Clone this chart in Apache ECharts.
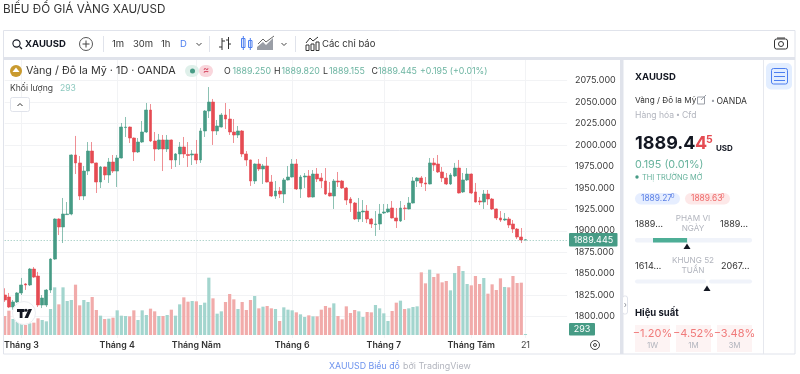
<!DOCTYPE html>
<html><head><meta charset="utf-8">
<style>html,body{margin:0;padding:0;background:#fff}#c{width:800px;height:374px}</style>
<script src="https://cdn.jsdelivr.net/npm/echarts@6/dist/echarts.min.js"></script>
</head><body><div id="c"></div>
<script>
const opens=[1825.1,1822.8,1811.1,1817,1827.5,1838,1836.8,1855.4,1847.2,1813.5,1813.5,1830.9,1867,1913.7,1904.4,1918.8,1919.5,1988.3,1979,1940.5,1969.6,1992.9,1979,1956.8,1974.3,1965,1980.1,1969.6,1984.8,2020.3,2020.9,2008.1,1991.8,2003.4,2015.1,2040.7,2004.6,1995.3,2005.8,1995.3,2005.8,1982.5,1989.5,1997.6,1988.9,1988.3,1989.5,1982.5,2016.3,2039.6,2050,2016.3,2020.9,2034.9,2030.2,2015.1,2011.6,2016.3,1989.5,1982.5,1958,1977.8,1972,1975.5,1956.8,1940.5,1946.3,1942.8,1959.2,1962.6,1977.8,1948.7,1962.6,1963.8,1939.3,1966.1,1961.5,1958,1944,1940.5,1958,1958,1949.8,1937,1932.3,1913.7,1921.9,1923,1913.7,1907.3,1907.9,1920.7,1921.9,1926.5,1914.9,1911.4,1926.5,1925.4,1932.3,1958,1961.5,1955.7,1954.5,1979,1977.8,1968.5,1961.5,1954.5,1963.8,1973.1,1945.2,1959.2,1966.1,1945.2,1934.7,1933.5,1942.8,1937,1925.4,1914.9,1912.5,1913.7,1907.9,1902,1892.7,1889.25];
const closes=[1819.3,1811.1,1817,1827.5,1836.8,1836.8,1855.4,1846,1813.5,1821.6,1830.9,1867,1913.7,1904.4,1919.5,1919.5,1988.3,1979,1940.5,1969.6,1992.9,1979,1956.8,1974.3,1965,1980.1,1969.6,1984.8,2020.9,2020.9,2008.1,1991.8,2003.4,2015.1,2040.7,2004.6,1995.3,2005.8,1995.3,2005.8,1982.5,1989.5,1997.6,1989.5,1987.7,1989.5,1982.5,2016.3,2039.6,2050,2016.3,2022.1,2034.9,2030.2,2015.1,2011.6,2016.3,1989.5,1982.5,1958,1977.8,1972,1975.5,1956.8,1940.5,1946.3,1942.8,1959.2,1962.6,1977.8,1948.7,1962.6,1963.8,1939.3,1966.1,1960.3,1958,1942.8,1940.5,1958,1956.8,1949.8,1935.8,1932.3,1913.7,1921.9,1923,1913.7,1907.9,1907.9,1919.5,1921.9,1925.4,1914.9,1911.4,1926.5,1925.8,1932.3,1958,1961.5,1955.7,1954.5,1979,1976.6,1968.5,1961.5,1954.5,1965,1973.1,1944,1959.2,1966.1,1944,1933.5,1933.5,1942.8,1937,1925.4,1914.9,1912.5,1913.7,1906.7,1902,1892.7,1889.25,1889.445];
const lows=[1817,1809.9,1807.6,1815.8,1825.1,1831,1835.6,1845,1811.1,1809.9,1811.1,1827.5,1866,1895,1885.7,1918.4,1918,1966.1,1935.8,1935.8,1965,1978.5,1944,1949.8,1959.2,1955.7,1967.3,1951,1984.2,2009.3,2002.3,1981.3,1990.6,2002.3,2013.9,2003.4,1981.3,1994.1,1969.6,1991.8,1972,1974.3,1976.6,1984.8,1974.3,1976.6,1977.8,1979,2009.3,2031.4,2000,2011.6,2020.3,2018.6,2011.6,2002.3,2008.1,1986,1975.5,1952.2,1954.5,1969.6,1954.5,1956.2,1939.3,1937,1938.2,1932.3,1958.6,1962,1947.5,1938.2,1949.8,1938.7,1938.7,1956.8,1949.8,1941.7,1939.9,1925.4,1951,1948.7,1930,1921.9,1912.5,1910.2,1910.2,1909,1903.2,1893.9,1900.9,1919.5,1920.7,1914.3,1903.2,1910.2,1912.5,1924.8,1931.7,1951,1951,1946.3,1954,1969.6,1967.3,1956.8,1953.3,1953.3,1962.6,1943.4,1944,1958,1942.8,1932.9,1930,1925.4,1930,1924.2,1912.5,1910.2,1911.4,1903.2,1897.4,1890.4,1885.7,1889.155];
const highs=[1833,1827.5,1819.3,1828.6,1845,1839,1856.6,1857.7,1852,1825.1,1832,1868,1914.5,1914.5,1938.2,1933.5,1989,2010.5,1987.1,1975.5,2003.4,2003.4,1979.5,1975.5,1974.8,1984.8,1988.3,1988.3,2025.6,2032.6,2021.5,2008.7,2008.1,2027.9,2048.9,2047.7,2015.1,2012.8,2011.6,2011.6,2006.4,1990.6,2003.4,2009.3,2003.4,1994.1,2005.8,2019.8,2040.7,2067.5,2053.6,2029.1,2037.2,2048.9,2041.9,2030.2,2022.1,2017.4,1992.9,1983,1978.5,1983.6,1977.8,1986,1965,1958,1951,1961.5,1975.5,1983.6,1983.6,1965,1967.3,1970.8,1970.8,1973.1,1967.3,1973.1,1956.8,1960.3,1968.5,1959.2,1951,1939.3,1933.5,1938.2,1935.8,1930,1914.9,1923,1931.2,1931.2,1931.2,1934.7,1926.5,1934.7,1930,1939.3,1962.6,1962.6,1963.8,1962.6,1984.8,1984.8,1988.3,1974.3,1967.3,1967.3,1979,1982.5,1967.3,1973.1,1966.7,1955.7,1939.3,1947.5,1947.5,1938.2,1926,1923,1920.7,1916,1912.5,1903.2,1903.2,1889.82];
const volumes=[5586,7154,4704,3920,3234,2940,3430,3626,4900,4410,4018,7644,14014,9016,14014,9996,10290,14798,8722,10290,9702,11172,7350,5684,4704,4802,5096,7252,5684,5586,5488,7252,4410,7252,5880,7742,6958,5586,5586,5880,7448,5684,9016,11074,9800,9996,9898,8820,9506,16856,10780,6272,6958,9702,12054,10486,7644,9702,7350,10290,11466,7840,8330,8526,7840,7644,4116,8134,7448,7252,6664,6076,5292,5782,5488,5488,7448,8526,8036,9310,5586,4606,8428,6468,7350,6958,5292,6762,6664,8820,7840,6370,4116,7056,9506,10094,7644,7840,8232,8428,18424,15190,19208,17052,18032,15484,15876,13132,18228,20286,18816,14994,14602,17346,14994,16758,12152,14896,13230,16660,14112,14014,17346,15288,15386,293];
const monthIndex=[4,27,46,69,91,112,125];
const monthNames=['Tháng 3','Tháng 4','Tháng Năm','Tháng 6','Tháng 7','Tháng Tám','21'];
const priceTicks=[1800,1825,1850,1875,1900,1925,1950,1975,2000,2025,2050,2075];
const emptySlots=10, lastPrice=1889.445, lastVolume=293;

const UP='#469b85',DOWN='#e54b52',UPW='rgba(70,155,133,.62)',DOWNW='rgba(229,75,82,.62)';
const FF='Inter';
const cats=[];for(let i=0;i<opens.length+emptySlots;i++){const k=monthIndex.indexOf(i);cats.push(k>=0?monthNames[k]:'d'+i);}
const showTick=i=>monthIndex.includes(i);
const candle=opens.map((o,i)=>[o,closes[i],lows[i],highs[i]]);
const vol=volumes.map((v,i)=>({value:v,itemStyle:{color:closes[i]>=opens[i]?'#a3d5ce':'#f1abaa'}}));

const g=[];
function T(text,x,y,size,fill,o){o=o||{};g.push({type:'text',z:100,style:{text,x,y,fill:fill||'#131722',font:(o.w||400)+' '+size+'px '+FF,textAlign:o.a||'left',textVerticalAlign:'middle'},silent:true});}
function R(x,y,w,h,fill,o){o=o||{};g.push({type:'rect',z:o.z||100,shape:{x,y,width:w,height:h,r:o.r||0},style:{fill:fill||'transparent',stroke:o.s||null,lineWidth:o.lw||1},silent:true});}
function L(x1,y1,x2,y2,s,lw){g.push({type:'line',z:100,shape:{x1,y1,x2,y2},style:{stroke:s||'#e0e3eb',lineWidth:lw||1},silent:true});}
function P(points,fill){g.push({type:'polygon',z:100,shape:{points},style:{fill},silent:true});}
function PL(points,s,lw){g.push({type:'polyline',z:100,shape:{points},style:{stroke:s||'#131722',lineWidth:lw||1,fill:'none'},silent:true});}
function C(cx,cy,r,fill,s,lw){g.push({type:'circle',z:100,shape:{cx,cy,r},style:{fill:fill||'transparent',stroke:s||null,lineWidth:lw||1},silent:true});}

T('BIỂU ĐỒ GIÁ VÀNG XAU/USD',3,9,11.7,'#333');
R(3.5,30.5,791.5,323.5,null,{s:'#e0e3eb'});
R(4,57,791,3,'#e0e3eb');
R(620,60,3.5,294,'#e0e3eb');
L(763.5,60,763.5,354,'#e6e8ee');

// toolbar
C(16.5,43.5,3.6,null,'#131722',1.1);L(19.5,46.5,22,49,'#131722',1.2);
T('XAUUSD',25,44.5,9.5,'#131722',{w:700});
C(86,44,6.5,null,'#444',.9);L(82.5,44,89.5,44,'#444');L(86,40.5,86,47.5,'#444');
L(103.5,36,103.5,52);
T('1m',112,44.5,9.5,'#333');T('30m',133,44.5,9.5,'#333');T('1h',161,44.5,9.5,'#333');T('D',180,44.5,9.5,'#4d7ff0');
PL([[196.5,43],[199,45.5],[201.5,43]],'#444');
L(209.5,36,209.5,52);
L(222,38,222,50,'#333');L(222,47,219,47,'#333');L(222,41,225,41,'#333');L(228.5,37,228.5,49,'#333');L(228.5,40,226,40,'#333');L(228.5,44,231,44,'#333');
R(241.5,38.5,3.5,9,null,{s:'#4d7ff0'});L(243.3,36,243.3,50,'#4d7ff0');R(248.5,40.5,3.5,7,null,{s:'#4d7ff0'});L(250.3,38,250.3,50,'#4d7ff0');
P([[257,50],[257,47],[263,42],[266,45],[273,38],[273,50]],'#9a9ea6');
PL([[258,44],[263,39],[266,42],[274,36]],'#666');
PL([[281.5,43],[284,45.5],[286.5,43]],'#444');
L(295.5,36,295.5,52);
PL([[306,43],[310,38],[313,41],[318,37]],'#333');R(306,45,3,5.5,null,{s:'#333'});R(311,44,3,6.5,null,{s:'#333'});R(316,42,3,8.5,null,{s:'#333'});
T('Các chỉ báo',322,44.5,9.5,'#333');
R(774.5,39,13,10,null,{s:'#333',r:2});C(781,44,2.5,null,'#333');L(777,38,785,38,'#333');

// chart legend
C(16,71,6,'#c99a2e');P([[12.5,72],[16,67.5],[19.5,72]],'#fff');
T('Vàng / Đô la Mỹ · 1D · OANDA',26,71,10.8,'#333');
R(185,65,14,12,'#dff0ea',{r:6});R(199,65,14,12,'#f9d6dc',{r:6});
C(192.5,71,2.5,UP);T('≈',206,70.5,9,'#d9546b',{a:'center',w:700});
const ohlc=[['O','1889.250',224,232.5],['H','1889.820',274,281.5],['L','1889.155',323,329],['C','1889.445',371.5,378]];
ohlc.forEach(r=>{T(r[0],r[2],71,8.8,'#333');T(r[1],r[3],71,8.8,'#6db5a2');});
T('+0.195 (+0.01%)',420,71,8.8,'#6db5a2');
T('Khối lượng',10,88,8.6,'#444');T(String(lastVolume),60,88,8.6,'#8cc9bf');
R(10.5,97.5,19,14,'#fff',{s:'#e0e3eb',r:2});PL([[17.5,106],[20,103.5],[22.5,106]],'#333');

// tags
R(569,233,48.5,13.5,UP,{r:1});T('1889.445',593.3,240,9,'#fff',{a:'center'});
R(569,323,26,12.5,UP,{r:1});T(String(lastVolume),582,329.5,9,'#fff',{a:'center'});
C(595,345,4.5,null,'#444',1);C(595,345,1.5,null,'#444',1);

// logo
C(24,313,11.5,'#fff','#eceef2',1);
R(17,309,7.5,3,'#131722');R(19.7,309,2.8,9,'#131722');
C(26,310.3,1.5,'#131722');P([[28.5,309],[32,309],[28,318],[24.5,318]],'#131722');

// side panel
R(766,63,26,26.5,'#e3eeff',{r:5});
R(771.5,68.5,16,15.5,null,{s:'#4d7ff0',r:2});L(774,72.5,785,72.5,'#4d7ff0');L(774,76.5,785,76.5,'#4d7ff0');L(774,80.5,785,80.5,'#4d7ff0');
T('XAUUSD',635,77,9.5,'#131722',{w:700});
T('Vàng / Đô la Mỹ',635,101,8.2,'#333');
R(697.5,97,7,7,null,{s:'#9a9ea6'});L(701,100,706,95,'#9a9ea6');
T('•',711,101,7,'#9a9ea6');T('OANDA',716.5,101,8.6,'#333');
T('Hàng hóa',635,115,8.6,'#b2b5be');T('•',676,115,7,'#b2b5be');T('Cfd',682,115,8.6,'#b2b5be');
T('1889.4',635,144,18,'#131722',{w:700});
T('4',695,144,18,'#e54b52',{w:700});T('5',706,140,10.5,'#e54b52',{w:700});
T('USD',716,149,8,'#131722',{w:700});
T('0.195 (0.01%)',635,165,10.8,'#67b39d');
C(637,177,1.7,UP);T('THỊ TRƯỜNG MỞ',642,177.5,7.4,'#67b39d');
R(635,193,45,11.5,'#e6eeff',{r:5.7});R(685,193,45,11.5,'#fde8e8',{r:5.7});
T('1889.27',641,198.7,8.4,'#5a7fe5');T('0',670.8,196.7,6,'#5a7fe5');
T('1889.63',691,198.7,8.4,'#ee6a6a');T('0',720.8,196.7,6,'#ee6a6a');
T('1889…',635,224,9,'#333');T('1889…',720,224,9,'#333');
T('PHẠM VI',693,218.5,8.2,'#b2b5be',{a:'center'});T('NGÀY',693,229,8.2,'#b2b5be',{a:'center'});
R(635,238,117,4.5,'#f0f3fa',{r:2});R(653,238,34.5,4.5,'#4dae96');L(687.8,238,687.8,242.5,'#fff');
P([[687,243.5],[690.5,249],[683.5,249]],'#131722');
T('1614…',635,266,9,'#333');T('2067…',721,266,9,'#333');
T('KHUNG 52',693,260.5,8.2,'#b2b5be',{a:'center'});T('TUẦN',693,271,8.2,'#b2b5be',{a:'center'});
R(635,279.5,71,4,'#f0f3fa',{r:2});R(709,279.5,43,4,'#f0f3fa',{r:2});
P([[707,285.5],[710.5,291],[703.5,291]],'#131722');
R(622.5,296,5,18,'#fff',{s:'#e0e3eb',r:2});PL([[624.5,303],[626,305],[624.5,307]],'#9a9ea6');
T('Hiệu suất',635,313.5,9.5,'#131722',{w:700});
[[635,'−1.20%','1W'],[676,'−4.52%','1M'],[717,'−3.48%','3M']].forEach(r=>{
  R(r[0],325,35,27,'#fdf3f3');
  T(r[1],r[0]+17.5,333.5,11,'#f07a7a',{a:'center'});
  T(r[2],r[0]+17.5,346,8,'#b2b5be',{a:'center'});
});
// link
T('XAUUSD Biểu đồ',329,366.5,8.8,'#6d93ee');T('bởi TradingView',403,366.5,8.9,'#b2b5be');

const step=4.166,left=4.7,n=cats.length;
const gridW=step*(n-1);
const chart=echarts.init(document.getElementById('c'));
chart.setOption({
  animation:false,backgroundColor:'#fff',
  grid:[
    {left,width:gridW,top:59.15,height:278.85},
    {left,width:gridW,top:59,height:276}
  ],
  xAxis:[
    {type:'category',gridIndex:0,data:cats,boundaryGap:false,axisLine:{show:false},axisTick:{show:false},
     axisLabel:{interval:(i)=>showTick(i),margin:3,hideOverlap:false,
       formatter:v=>v==='21'?'{d|21}':'{m|'+v+'}',
       rich:{m:{fontFamily:FF,fontSize:8.8,fontWeight:600,color:'#333'},d:{fontFamily:FF,fontSize:9,color:'#444'}}},
     splitLine:{show:true,interval:(i)=>showTick(i),lineStyle:{color:'#f2f3f5',width:1}}},
    {type:'category',gridIndex:1,data:cats,boundaryGap:false,axisLine:{show:false},axisTick:{show:false},axisLabel:{show:false},splitLine:{show:false}}
  ],
  yAxis:[
    {type:'value',gridIndex:0,position:'right',min:1775,max:2100,interval:25,scale:true,
     axisLine:{show:false},
     axisTick:{show:false,customValues:priceTicks},
     axisLabel:{customValues:priceTicks,margin:8,padding:[1,0,0,0],formatter:v=>v.toFixed(3),fontFamily:FF,fontSize:9,color:'#3a3a3a'},
     splitLine:{show:true,lineStyle:{color:'#f2f3f5',width:1}}},
    {type:'value',gridIndex:1,min:0,max:81144,show:false,splitLine:{show:false}}
  ],
  series:[
    {type:'bar',name:'Khối lượng',xAxisIndex:1,yAxisIndex:1,data:vol,barWidth:3.2,clip:false,silent:true,z:2},
    {type:'candlestick',name:'XAUUSD',xAxisIndex:0,yAxisIndex:0,data:candle,barWidth:3.4,clip:false,silent:true,z:3,
     itemStyle:{color:UP,color0:DOWN,borderColor:UPW,borderColor0:DOWNW,borderColorDoji:UPW,borderWidth:1},
     markLine:{silent:true,symbol:'none',animation:false,label:{show:false},
       lineStyle:{color:UP,type:[1,2],width:1,opacity:.6},data:[{yAxis:lastPrice}]}}
  ],
  graphic:g
});
</script></body></html>
